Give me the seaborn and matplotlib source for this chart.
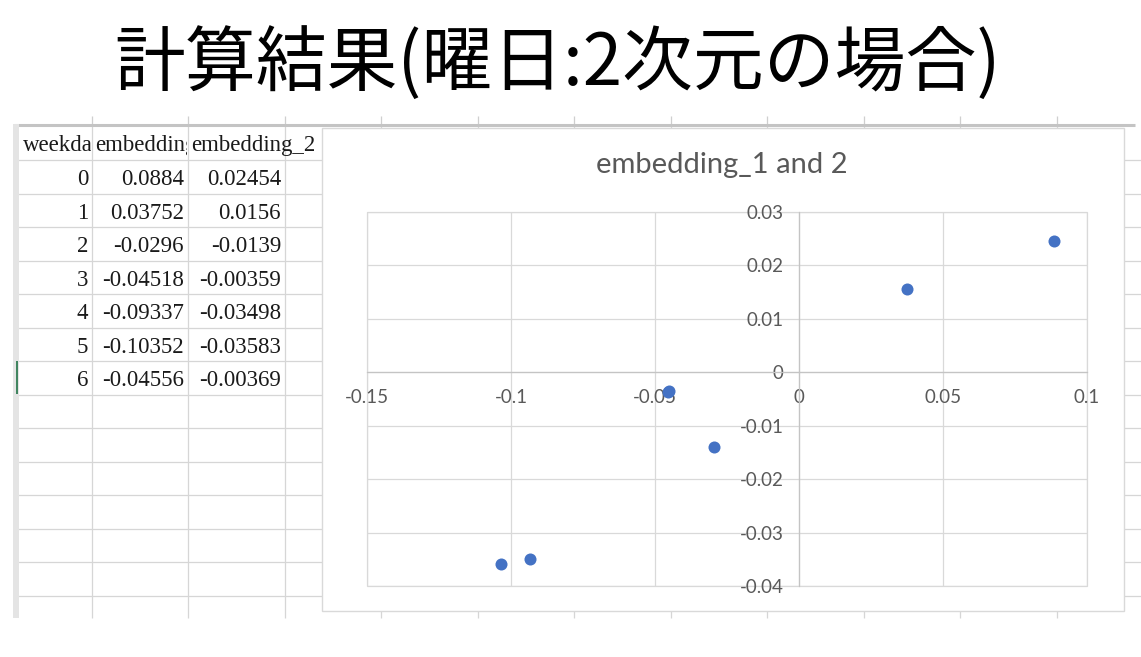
import numpy as np
import pandas as pd
import matplotlib.pyplot as plt
import seaborn as sns
from matplotlib.patches import Rectangle

# データ (表とグラフの両方に使う)
weekday = [0, 1, 2, 3, 4, 5, 6]
embedding_1 = [0.0884, 0.03752, -0.0296, -0.04518, -0.09337, -0.10352, -0.04556]
embedding_2 = [0.02454, 0.0156, -0.0139, -0.00359, -0.03498, -0.03583, -0.00369]
columns = ["weekday", "embedding_1", "embedding_2"]
x_ticks = [-0.15, -0.1, -0.05, 0, 0.05, 0.1]
y_ticks = [0.03, 0.02, 0.01, 0, -0.01, -0.02, -0.03, -0.04]

df = pd.DataFrame({"weekday": weekday, "embedding_1": embedding_1, "embedding_2": embedding_2})

sns.set_theme(style="white")
plt.rcParams["font.family"] = ["Lato", "DejaVu Sans"]

fig = plt.figure(figsize=(11.41, 6.57), dpi=100)
fig.patch.set_facecolor("white")

# 背景 (ピクセル座標)
bg = fig.add_axes([0, 0, 1, 1])
bg.set_xlim(0, 1141)
bg.set_ylim(657, 0)
bg.axis("off")

# スライドタイトル
fig.text(0.489, 0.902, "計算結果(曜日:2次元の場合)", ha="center", va="center",
         fontsize=51, color="black", family=["Noto Sans CJK JP", "DejaVu Sans"])

# スプレッドシートのグリッド
grid_c = "#d6d6d6"
col_edges = [20, 92, 188, 285, 381, 478, 574, 671, 767, 864, 960, 1057]
row_h = 33.5
row_lines = 160 + row_h * np.arange(14)
bg.hlines(row_lines, 14, 1141, color=grid_c, lw=0.9, zorder=1)
bg.vlines(col_edges[1:], 124, 618, color=grid_c, lw=0.9, zorder=1)
bg.vlines(col_edges[1:], 116, 124, color="#cfcfcf", lw=0.9, zorder=1)
bg.hlines(124.5, 14, 1135, color="#c4c4c4", lw=2.2, zorder=2)
bg.add_patch(Rectangle((13, 124), 6, 494, facecolor="#e4e4e4", edgecolor="none", zorder=2))
bg.vlines(17, 361, 394, color="#217346", lw=1.2, zorder=3)

tfont = dict(family=["Liberation Serif", "DejaVu Serif"], fontsize=16.5, color="#1a1a1a")
for j, name in enumerate(columns):
    t = bg.text(col_edges[j] + 3, 146, name, ha="left", va="center", zorder=3, **tfont)
    # 右隣のセルが空なら文字ははみ出して表示される (Excel と同じ)
    right = col_edges[j + 1] if j < len(columns) - 1 else col_edges[j + 2]
    clip = Rectangle((col_edges[j], 124), right - col_edges[j] - 1, 36)
    clip.set_transform(bg.transData)
    t.set_clip_on(True)
    t.set_clip_path(clip)

for i in range(len(df)):
    yc = 160 + row_h * (i + 0.5) + 3
    vals = [str(df.weekday[i]), f"{df.embedding_1[i]:g}", f"{df.embedding_2[i]:g}"]
    for j, v in enumerate(vals):
        bg.text(col_edges[j + 1] - 4, yc, v, ha="right", va="center", zorder=3, **tfont)

# グラフ領域
bg.add_patch(Rectangle((322, 128), 802, 483, facecolor="white", edgecolor="#d9d9d9",
                       lw=1, zorder=5))
bg.text(722, 165, "embedding_1 and 2", ha="center", va="center", fontsize=21,
        color="#595959", zorder=6)

W, H = 1141, 657
ax = fig.add_axes([367 / W, (H - 586) / H, 720 / W, 374 / H])
ax.set_facecolor("none")
sns.scatterplot(data=df, x="embedding_1", y="embedding_2", ax=ax, s=75,
                color="#4472C4", linewidth=0, zorder=4, clip_on=False)
ax.set_xlim(-0.15, 0.1)
ax.set_ylim(-0.04, 0.03)
ax.set_xticks(x_ticks)
ax.set_yticks(y_ticks)
ax.set_xticklabels([f"{v:g}" for v in x_ticks])
ax.set_yticklabels([f"{v:g}" for v in y_ticks])
ax.set_xlabel("")
ax.set_ylabel("")
ax.grid(True, color="#d9d9d9", lw=0.9)
ax.set_axisbelow(True)
for s in ["top", "right"]:
    ax.spines[s].set_visible(False)
for s in ["left", "bottom"]:
    ax.spines[s].set_position(("data", 0))
    ax.spines[s].set_color("#c4c4c4")
    ax.spines[s].set_linewidth(0.9)
ax.add_patch(Rectangle((0, 0), 1, 1, transform=ax.transAxes, fill=False,
                       edgecolor="#d9d9d9", lw=0.9, clip_on=False, zorder=0))
ax.tick_params(axis="both", length=0, labelsize=13.5, labelcolor="#595959")
ax.tick_params(axis="x", pad=12)
ax.tick_params(axis="y", pad=11)

fig.savefig("out.png", dpi=100)
